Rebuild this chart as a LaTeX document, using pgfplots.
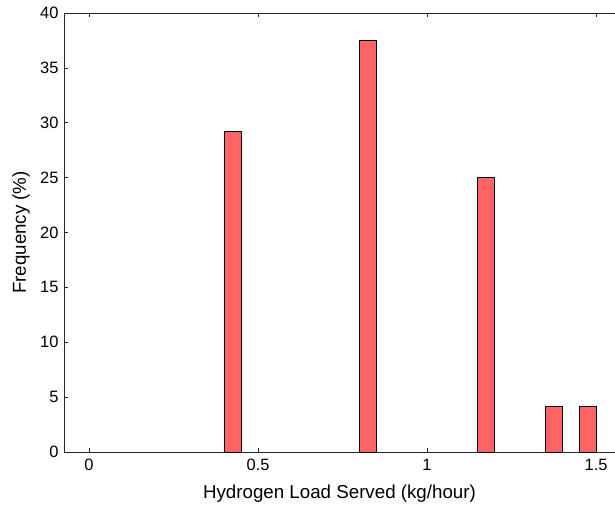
\documentclass[border=0pt]{standalone}
\usepackage{fontspec}
\setmainfont{Liberation Sans}
\usepackage{pgfplots}
\pgfplotsset{compat=1.18}
\definecolor{barred}{HTML}{FF6464}
\definecolor{axgray}{HTML}{262626}
\begin{document}
\begin{tikzpicture}
\useasboundingbox (-64bp,-58bp) rectangle (551bp,452bp);
\begin{axis}[
  scale only axis,
  width=551bp, height=439bp,
  xmin=-0.074, xmax=1.556,
  ymin=0, ymax=40,
  axis x line=box,
  axis y line*=left,
  xtick={0,0.5,1,1.5},
  ytick={0,5,...,40},
  tick align=inside,
  major tick length=4bp,
  tick style={axgray, line width=0.6pt},
  axis line style={axgray, line width=0.8pt},
  x tick label style={font=\fontsize{16.5}{18}\selectfont, yshift=-4bp},
  y tick label style={font=\fontsize{16.5}{18}\selectfont, xshift=-2bp},
  /pgf/number format/assume math mode=true,
  xlabel={Hydrogen Load Served (kg/hour)},
  ylabel={Frequency (\%)},
  label style={font=\fontsize{18.8}{22}\selectfont},
  xlabel style={at={(axis description cs:0.5,-0.0957)}, anchor=center},
  ylabel style={at={(axis description cs:-0.078,0.5)}, anchor=center},
]
\addplot[ybar, bar width=0.05, fill=barred, draw=black, line width=0.8pt]
coordinates {
(0.425,29.1667)
(0.825,37.5)
(1.175,25.0)
(1.375,4.1667)
(1.475,4.1667)
};
\end{axis}
\end{tikzpicture}
\end{document}
